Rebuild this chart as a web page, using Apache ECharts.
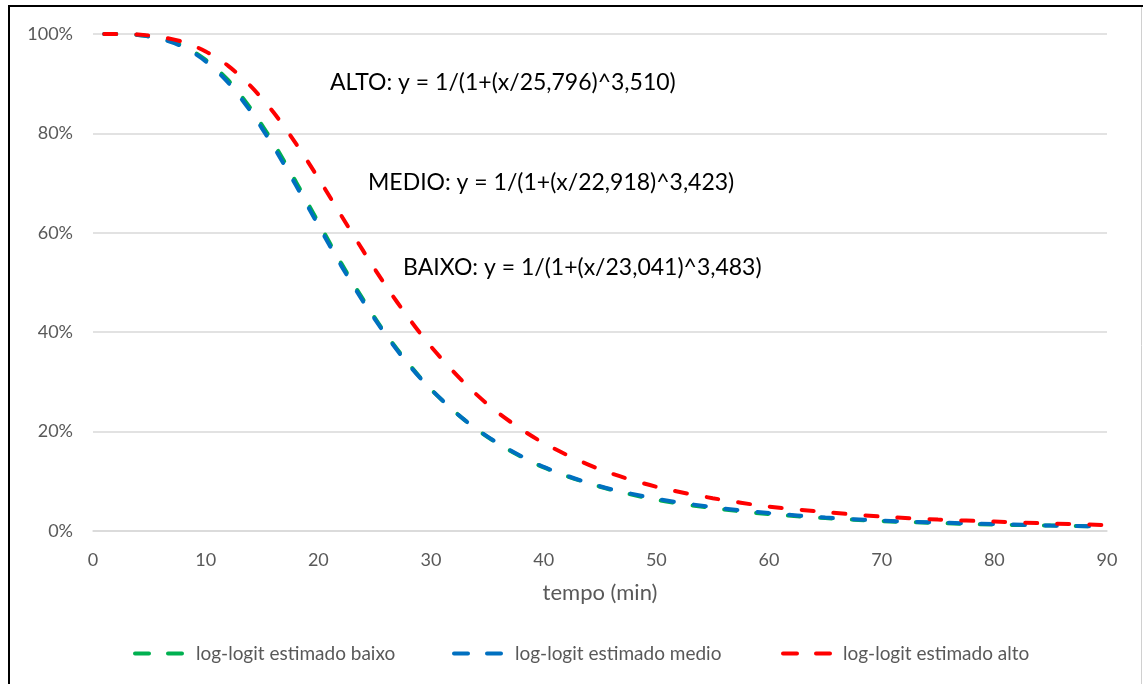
<!DOCTYPE html>
<html>
<head>
<meta charset="utf-8">
<script src="https://cdn.jsdelivr.net/npm/echarts@6/dist/echarts.min.js"></script>
<style>
html,body{margin:0;padding:0;background:#fff;}
#chart{width:1143px;height:684px;}
</style>
</head>
<body>
<div id="chart"></div>
<script>
// tempo (min)
const tempo = [1,2,4,6,8,10,12,14,16,18,20,22,24,26,28,30,33,36,40,45,50,55,60,65,70,75,80,85,90];
// percent values
const baixo = [100,100,99.8,99.1,97.6,94.8,90.7,85.0,78.1,70.3,62.1,54.0,46.5,39.6,33.7,28.5,22.3,17.5,12.8,8.9,6.3,4.6,3.4,2.6,2.0,1.6,1.3,1.1,0.9];
const medio = [100,100,99.8,99.0,97.4,94.5,90.2,84.4,77.4,69.6,61.5,53.5,46.1,39.4,33.5,28.5,22.3,17.6,12.9,9.0,6.5,4.8,3.6,2.7,2.1,1.7,1.4,1.1,0.9];
const alto  = [100,100,99.9,99.4,98.4,96.5,93.6,89.5,84.3,78.0,71.0,63.6,56.3,49.3,42.9,37.1,29.7,23.7,17.7,12.4,8.9,6.6,4.9,3.8,2.9,2.3,1.9,1.5,1.2];
const seriesNames = ['log-logit estimado baixo','log-logit estimado medio','log-logit estimado alto'];
const seriesColors = ['#00B050','#0070C0','#FF0000'];
const annotations = [
  'ALTO: y = 1/(1+(x/25,796)^3,510)',
  'MEDIO: y = 1/(1+(x/22,918)^3,423)',
  'BAIXO: y = 1/(1+(x/23,041)^3,483)'
];

const FONT = 'Lato';
const pair = (ys) => tempo.map((x, i) => [x, ys[i]]);
const allData = [baixo, medio, alto];

const chart = echarts.init(document.getElementById('chart'), null, {renderer: 'canvas'});
const series = allData.map((ys, i) => ({
  name: seriesNames[i],
  type: 'line',
  data: pair(ys),
  smooth: 0.3,
  symbol: 'none',
  lineStyle: {color: seriesColors[i], width: 4, type: [12, 20], cap: 'round'},
  itemStyle: {color: seriesColors[i]},
  z: 2 + i
}));

const dashIcon = 'path://M2,0h14a2,2 0 0 1 0,4h-14a2,2 0 0 1 0,-4z M35,0h14a2,2 0 0 1 0,4h-14a2,2 0 0 1 0,-4z';
const legendLefts = [128, 447, 776];
const legendPads = [7, 7, 6];
const legends = seriesNames.map((n, i) => ({
  data: [{name: n, icon: dashIcon}],
  left: legendLefts[i],
  top: 639,
  itemWidth: 51,
  itemHeight: 4,
  textStyle: {fontFamily: FONT, fontSize: 19, color: '#595959', padding: [0, 0, 0, legendPads[i]]}
}));

const annX = [330, 368, 403];
const annY = [83, 183, 268];

chart.setOption({
  animation: false,
  backgroundColor: '#fff',
  grid: {left: 93, right: 36, top: 34, bottom: 153},
  xAxis: {
    type: 'value', min: 0, max: 90, interval: 10,
    name: 'tempo (min)', nameLocation: 'middle', nameGap: 51,
    nameTextStyle: {fontFamily: FONT, fontSize: 22, color: '#595959'},
    axisLine: {show: true, lineStyle: {color: '#D9D9D9', width: 1.5}},
    axisTick: {show: false},
    splitLine: {show: false},
    axisLabel: {fontFamily: FONT, fontSize: 18, color: '#595959', margin: 20}
  },
  yAxis: {
    type: 'value', min: 0, max: 100, interval: 20,
    axisLine: {show: false},
    axisTick: {show: false},
    splitLine: {lineStyle: {color: '#D9D9D9', width: 1.5}},
    axisLabel: {fontFamily: FONT, fontSize: 18, color: '#595959', margin: 20, formatter: '{value}%'}
  },
  legend: legends,
  series: series,
  graphic: [
    ...annotations.map((t, i) => ({
      type: 'text', x: annX[i], y: annY[i],
      style: {text: t, fontFamily: FONT, fontSize: 23, fill: '#000', verticalAlign: 'middle'}
    })),
    {type: 'line', shape: {x1: 8, y1: 6, x2: 1143, y2: 6}, style: {stroke: '#000', lineWidth: 2}},
    {type: 'line', shape: {x1: 9, y1: 5, x2: 9, y2: 684}, style: {stroke: '#000', lineWidth: 2}},
    {type: 'line', shape: {x1: 1141.5, y1: 7, x2: 1141.5, y2: 684}, style: {stroke: '#D0D0D0', lineWidth: 1}}
  ]
});
</script>
</body>
</html>
